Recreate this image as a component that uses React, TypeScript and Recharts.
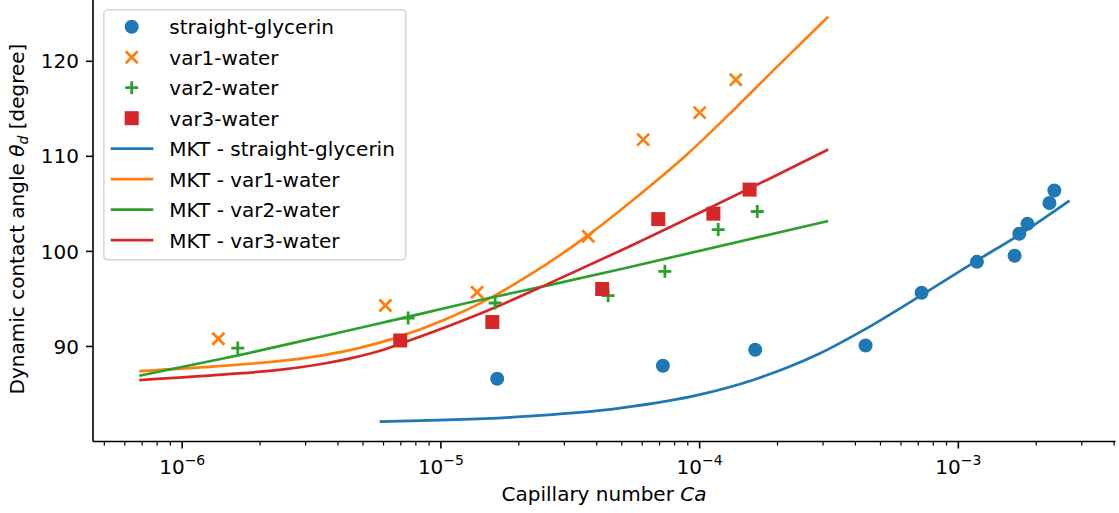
import React from "react";
import {
  ComposedChart,
  Scatter,
  Line,
  XAxis,
  YAxis,
  Legend,
} from "recharts";

// measured points
const glyCa = [1.65e-5, 7.21e-5, 1.64e-4, 4.38e-4, 7.21e-4, 1.18e-3, 1.65e-3, 1.72e-3, 1.85e-3, 2.25e-3, 2.35e-3];
const glyTheta = [86.6, 87.97, 89.65, 90.1, 95.65, 98.9, 99.55, 101.86, 102.9, 105.1, 106.4];

const var1Ca = [1.38e-6, 6.1e-6, 1.38e-5, 3.71e-5, 6.05e-5, 1.0e-4, 1.38e-4];
const var1Theta = [90.8, 94.3, 95.7, 101.6, 111.76, 114.6, 118.07];

const var2Ca = [1.64e-6, 7.47e-6, 1.62e-5, 4.43e-5, 7.34e-5, 1.18e-4, 1.67e-4];
const var2Theta = [89.83, 92.99, 94.57, 95.34, 97.9, 102.3, 104.2];

const var3Ca = [6.96e-6, 1.58e-5, 4.2e-5, 6.92e-5, 1.13e-4, 1.56e-4];
const var3Theta = [90.63, 92.57, 96.04, 103.4, 103.97, 106.5];

// MKT fits
const mktGlyCa = [5.8e-6, 1.9e-5, 4.92e-5, 1.0e-4, 1.61e-4, 2.17e-4, 2.91e-4, 4.35e-4, 7.08e-4, 1.17e-3, 1.73e-3, 2.69e-3];
const mktGlyTheta = [82.1, 82.56, 83.51, 84.93, 86.48, 87.75, 89.25, 91.79, 95.27, 98.98, 101.8, 105.35];

const mktVar1Ca = [6.82e-7, 1.47e-6, 2.5e-6, 3.58e-6, 4.8e-6, 6.49e-6, 1.05e-5, 1.55e-5, 2.21e-5, 3.71e-5, 5.38e-5, 9.02e-5, 1.39e-4, 2.04e-4, 3.14e-4];
const mktVar1Theta = [87.41, 87.98, 88.53, 89.12, 89.82, 90.8, 92.89, 95.09, 97.55, 101.71, 105.15, 110.3, 115.2, 119.7, 124.7];

const mktVar2Ca = [6.82e-7, 1.47e-6, 3.58e-6, 6.49e-6, 1.6e-5, 2.57e-5, 5.38e-5, 3.14e-4];
const mktVar2Theta = [86.92, 88.78, 91.13, 92.74, 95.2, 96.4, 98.36, 103.2];

const mktVar3Ca = [6.82e-7, 1.47e-6, 2.5e-6, 3.58e-6, 4.6e-6, 5.83e-6, 7.84e-6, 1.55e-5, 2.57e-5, 5.38e-5, 1.82e-4, 3.14e-4];
const mktVar3Theta = [86.46, 87.06, 87.61, 88.23, 88.83, 89.55, 90.78, 93.89, 96.53, 100.54, 107.52, 110.72];

const yTicks = [90, 100, 110, 120];
const xMajor = [1e-6, 1e-5, 1e-4, 1e-3];
const xMinor: number[] = [];
for (let e = -7; e <= -3; e++) {
  for (let m = 2; m <= 9; m++) {
    const v = m * Math.pow(10, e);
    if (v > 4.52e-7 && v < 4.05e-3) xMinor.push(v);
  }
}

const BLUE = "#1f77b4";
const ORANGE = "#ff7f0e";
const GREEN = "#2ca02c";
const RED = "#d62728";
const FONT = "DejaVu Sans";

const zip = (xs: number[], ys: number[]) => xs.map((x, i) => ({ x, y: ys[i] }));

const CircleMark = (p: any) => <circle cx={p.cx} cy={p.cy} r={7} fill={BLUE} />;
const XMark = (p: any) => {
  const s = 6;
  return (
    <path
      d={`M${p.cx - s},${p.cy - s}L${p.cx + s},${p.cy + s}M${p.cx - s},${p.cy + s}L${p.cx + s},${p.cy - s}`}
      stroke={ORANGE}
      strokeWidth={2.8}
      fill="none"
    />
  );
};
const PlusMark = (p: any) => {
  const s = 6.5;
  return (
    <path
      d={`M${p.cx - s},${p.cy}L${p.cx + s},${p.cy}M${p.cx},${p.cy - s}L${p.cx},${p.cy + s}`}
      stroke={GREEN}
      strokeWidth={2.8}
      fill="none"
    />
  );
};
const SquareMark = (p: any) => (
  <rect x={p.cx - 7} y={p.cy - 7} width={14} height={14} fill={RED} />
);

const XTick = (props: any) => {
  const { x, y, payload } = props;
  const v = payload.value;
  const lg = Math.log10(v);
  const exp = Math.round(lg);
  const major = Math.abs(lg - exp) < 1e-6;
  return (
    <g>
      <line
        x1={x}
        x2={x}
        y1={y}
        y2={y + (major ? 7 : 4)}
        stroke="#000"
        strokeWidth={major ? 1.6 : 1.2}
      />
      {major && (
        <text x={x} y={y + 32} textAnchor="middle" fontFamily={FONT} fontSize={20} fill="#000">
          10
          <tspan dy={-9} fontSize={14}>
            {"\u2212" + Math.abs(exp)}
          </tspan>
        </text>
      )}
    </g>
  );
};

const XLabel = () => (
  <text x={604} y={501} textAnchor="middle" fontFamily={FONT} fontSize={20} fill="#000">
    Capillary number <tspan fontStyle="italic">Ca</tspan>
  </text>
);

const YLabel = () => (
  <text
    transform="translate(24,219) rotate(-90)"
    textAnchor="middle"
    fontFamily={FONT}
    fontSize={20}
    fill="#000"
  >
    Dynamic contact angle <tspan fontStyle="italic">θ</tspan>
    <tspan fontStyle="italic" fontSize={14} dy={4}>
      d
    </tspan>
    <tspan dy={-4}> [degree]</tspan>
  </text>
);

const legendItems = [
  { label: "straight-glycerin", kind: "circle", color: BLUE },
  { label: "var1-water", kind: "x", color: ORANGE },
  { label: "var2-water", kind: "plus", color: GREEN },
  { label: "var3-water", kind: "square", color: RED },
  { label: "MKT - straight-glycerin", kind: "line", color: BLUE },
  { label: "MKT - var1-water", kind: "line", color: ORANGE },
  { label: "MKT - var2-water", kind: "line", color: GREEN },
  { label: "MKT - var3-water", kind: "line", color: RED },
];

const LegendBox = () => (
  <svg width={304} height={252} style={{ display: "block" }}>
    <rect x={0.8} y={0.8} width={302} height={250} rx={4} fill="rgba(255,255,255,0.8)" stroke="#d5d5d5" strokeWidth={1.6} />
    {legendItems.map((it, i) => {
      const cy = 17.7 + i * 30.5;
      const cx = 28.7;
      let mark: React.ReactNode = null;
      if (it.kind === "circle") mark = <CircleMark cx={cx} cy={cy} />;
      else if (it.kind === "x") mark = <XMark cx={cx} cy={cy} />;
      else if (it.kind === "plus") mark = <PlusMark cx={cx} cy={cy} />;
      else if (it.kind === "square") mark = <SquareMark cx={cx} cy={cy} />;
      else mark = <line x1={7.7} x2={50.3} y1={cy} y2={cy} stroke={it.color} strokeWidth={2.7} />;
      return (
        <g key={it.label}>
          {mark}
          <text x={66.3} y={cy + 7.3} fontFamily={FONT} fontSize={20} fill="#000">
            {it.label}
          </text>
        </g>
      );
    })}
  </svg>
);

export default function App() {
  return (
    <div style={{ position: "absolute", left: 0, top: 0, background: "#fff" }}>
      <ComposedChart
        width={1119}
        height={513}
        margin={{ top: 0, right: 3.5, bottom: 0, left: 0 }}
      >
        <XAxis
          dataKey="x"
          type="number"
          scale="log"
          domain={[4.52e-7, 4.05e-3]}
          allowDataOverflow
          ticks={[...xMajor, ...xMinor]}
          interval={0}
          tickSize={0}
          tickMargin={0}
          tickLine={false}
          tick={<XTick />}
          axisLine={{ stroke: "#000", strokeWidth: 1.6 }}
          height={71.5}
          label={<XLabel />}
        />
        <YAxis
          dataKey="y"
          type="number"
          domain={[80, 126.45]}
          allowDataOverflow
          ticks={yTicks}
          interval={0}
          width={93}
          tickSize={7}
          tickMargin={7}
          tick={{ fill: "#000", fontSize: 20, fontFamily: FONT }}
          tickLine={{ stroke: "#000", strokeWidth: 1.6 }}
          axisLine={{ stroke: "#000", strokeWidth: 1.6 }}
          label={<YLabel />}
        />
        <YAxis
          yAxisId="r"
          orientation="right"
          type="number"
          domain={[80, 126.45]}
          width={0}
          tick={false}
          tickLine={false}
          axisLine={{ stroke: "#000", strokeWidth: 1.6 }}
        />
        <Scatter data={zip(glyCa, glyTheta)} shape={<CircleMark />} isAnimationActive={false} />
        <Scatter data={zip(var1Ca, var1Theta)} shape={<XMark />} isAnimationActive={false} />
        <Scatter data={zip(var2Ca, var2Theta)} shape={<PlusMark />} isAnimationActive={false} />
        <Scatter data={zip(var3Ca, var3Theta)} shape={<SquareMark />} isAnimationActive={false} />
        <Line data={zip(mktGlyCa, mktGlyTheta)} dataKey="y" type="monotone" stroke={BLUE} strokeWidth={2.7} dot={false} activeDot={false} isAnimationActive={false} />
        <Line data={zip(mktVar1Ca, mktVar1Theta)} dataKey="y" type="monotone" stroke={ORANGE} strokeWidth={2.7} dot={false} activeDot={false} isAnimationActive={false} />
        <Line data={zip(mktVar2Ca, mktVar2Theta)} dataKey="y" type="monotone" stroke={GREEN} strokeWidth={2.7} dot={false} activeDot={false} isAnimationActive={false} />
        <Line data={zip(mktVar3Ca, mktVar3Theta)} dataKey="y" type="monotone" stroke={RED} strokeWidth={2.7} dot={false} activeDot={false} isAnimationActive={false} />
        <Legend
          layout="horizontal"
          verticalAlign="middle"
          align="center"
          wrapperStyle={{ left: 103, top: 9, width: 304, height: 252 }}
          content={<LegendBox />}
        />
      </ComposedChart>
    </div>
  );
}
